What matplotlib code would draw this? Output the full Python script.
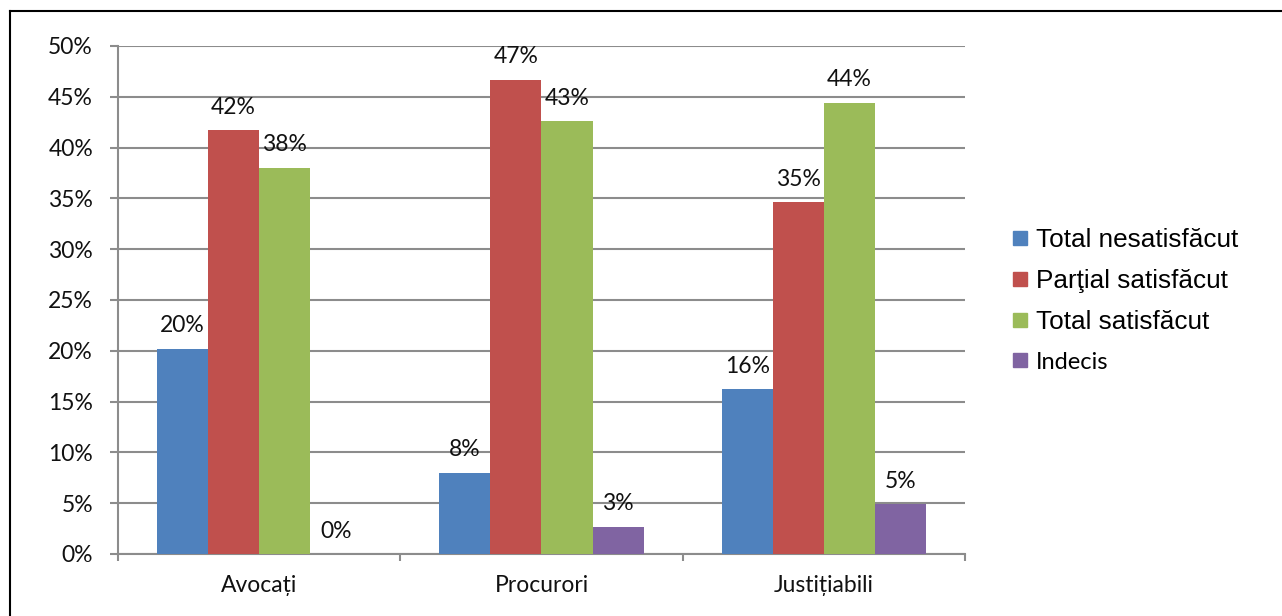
import numpy as np
import matplotlib.pyplot as plt
from matplotlib.lines import Line2D
from matplotlib.ticker import FuncFormatter

categories = ['Avocați', 'Procurori', 'Justițiabili']
series = ['Total nesatisfăcut', 'Parţial satisfăcut', 'Total satisfăcut', 'Indecis']
values = {
    'Total nesatisfăcut': [0.202, 0.080, 0.162],
    'Parţial satisfăcut': [0.417, 0.467, 0.346],
    'Total satisfăcut': [0.380, 0.426, 0.444],
    'Indecis': [0.0, 0.027, 0.049],
}
colors = ['#4F81BD', '#C0504D', '#9BBB59', '#8064A2']

cal = ['Lato', 'DejaVu Sans']
ari = ['Liberation Sans', 'DejaVu Sans']

fig = plt.figure(figsize=(12.82, 6.16), dpi=100)
ax = fig.add_axes([118/1282, 62/616, (965-118)/1282, (554-46)/616])

x = np.arange(len(categories))
w = 0.181
for i, s in enumerate(series):
    pos = x + (i - 1.5) * w
    bars = ax.bar(pos, values[s], w, color=colors[i], zorder=3)
    for xx, v in zip(pos, values[s]):
        ax.annotate('{:.0%}'.format(v), (xx, v), xytext=(0, 9), textcoords='offset points',
                    ha='center', va='bottom', fontsize=16.5, family=cal, color='#111111')

ax.set_xlim(-0.5, 2.5)
ax.set_ylim(0, 0.5)
ax.set_yticks(np.arange(0, 0.51, 0.05))
ax.yaxis.set_major_formatter(FuncFormatter(lambda v, p: '{:.0f}%'.format(v*100)))
ax.yaxis.grid(True, color='#8c8c8c', lw=1.5, zorder=0)
ax.set_axisbelow(True)

ax.set_xticks(x)
ax.set_xticklabels(categories)
ax.set_xticks([-0.5, 0.5, 1.5, 2.5], minor=True)
ax.tick_params(axis='x', which='major', length=0, pad=15)
ax.tick_params(axis='x', which='minor', length=5, width=1.5, color='#8c8c8c')
ax.tick_params(axis='y', length=6, width=1.5, color='#8c8c8c', pad=12)
for lab in ax.get_xticklabels() + ax.get_yticklabels():
    lab.set_family(cal)
    lab.set_fontsize(16.5)
    lab.set_color('#111111')

for side in ['top', 'right']:
    ax.spines[side].set_visible(False)
for side in ['left', 'bottom']:
    ax.spines[side].set_color('#8c8c8c')
    ax.spines[side].set_linewidth(1.5)

handles = [Line2D([], [], marker='s', ls='', color=c, markersize=10) for c in colors]
leg = fig.legend(handles, series, loc='upper left', bbox_to_anchor=(998/1282, 1 - 218/616),
                 frameon=False, prop={'family': ari, 'size': 18.8}, labelspacing=0.64,
                 handletextpad=0.15, handlelength=0.9, borderaxespad=0)
leg.get_texts()[3].set_family(cal)
leg.get_texts()[3].set_fontsize(17)

# outer border (top and left only)
fig.add_artist(Line2D([10/1282, 10/1282], [0, 1 - 11/616], color='black', lw=1.5))
fig.add_artist(Line2D([10/1282, 1], [1 - 11/616, 1 - 11/616], color='black', lw=1.5))

fig.savefig('out.png', dpi=100)
